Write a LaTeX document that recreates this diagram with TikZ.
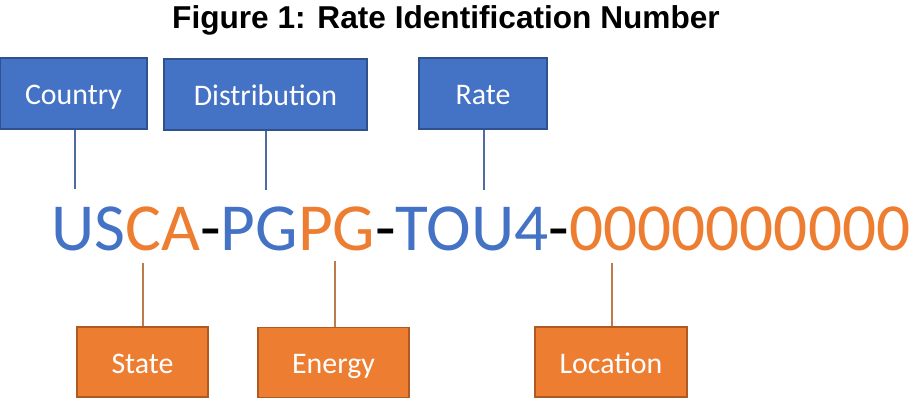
\documentclass[tikz,border=0pt]{standalone}
\usepackage{fontspec}
\setmainfont{Carlito}
\newfontfamily\titlefont{Liberation Sans}
\usepackage{xcolor}
\usepackage{tikz}
\usetikzlibrary{positioning}
\usetikzlibrary{calc}
\definecolor{ridblue}{HTML}{4472C4}
\definecolor{ridblueline}{HTML}{2F528F}
\definecolor{ridorange}{HTML}{ED7D31}
\definecolor{ridorangeline}{HTML}{AE5A21}
\tikzstyle{bluebox}=[rectangle,fill=ridblue,draw=ridblueline,line width=0.7pt,text=white,font=\fontsize{17}{20}\selectfont,inner sep=0pt,text height=13pt,text depth=0pt]
\tikzstyle{orangebox}=[rectangle,fill=ridorange,draw=ridorangeline,line width=0.7pt,text=white,font=\fontsize{17}{20}\selectfont,inner sep=0pt,text height=13pt,text depth=0pt]
\tikzstyle{blueedge} = [draw,line width=0.8pt,ridblueline!85]
\tikzstyle{orangeedge} = [draw,line width=0.8pt,ridorangeline!80]
\tikzset{ridtext/.style={anchor=base west,inner sep=0pt,font=\fontsize{38.3}{40}\selectfont}}

\begin{document}
\begin{tikzpicture}[x=0.02cm, y=-0.02cm]

  \useasboundingbox (0,0) rectangle (910,399);

  \node[anchor=base, font=\titlefont\bfseries\fontsize{18}{20}\selectfont] (title) at (446,29) {Figure 1: Rate Identification Number};

  \node[ridtext] (rid) at (51,250) {\color{ridblue}US\color{ridorange}CA\color{black}-\color{ridblue}PG\color{ridorange}PG\color{black}-\color{ridblue}TOU4\color{black}-\color{ridorange}0000000000};

  % upper boxes
  \foreach \x/\y/\w/\name/\label in { 73.5/93.5/147/country/Country, 265.5/94.5/203/distribution/Distribution, 483/93.5/128/rate/Rate}
         \node[bluebox, minimum width=\w*0.02cm, minimum height=1.42cm] (\name) at (\x,\y) {\label};

  % lower boxes
  \foreach \x/\y/\w/\name/\label in { 142.5/362/131/state/State, 333.5/362.5/151/energy/Energy, 611/362/152/location/Location}
         \node[orangebox, minimum width=\w*0.02cm, minimum height=1.4cm] (\name) at (\x,\y) {\label};

  % ends of the leaders at the number
  \foreach \x/\y/\name in { 75/189/pcountry, 266/190/pdistribution, 484/190/prate, 143/263/pstate, 335/261/penergy, 612/263/plocation}
         \coordinate (\name) at (\x,\y);

  \foreach \source in {country, distribution, rate}
         \path[blueedge] (p\source |- \source.south) -- (p\source);

  \foreach \source in {state, energy, location}
         \path[orangeedge] (p\source |- \source.north) -- (p\source);

\end{tikzpicture}
\end{document}
